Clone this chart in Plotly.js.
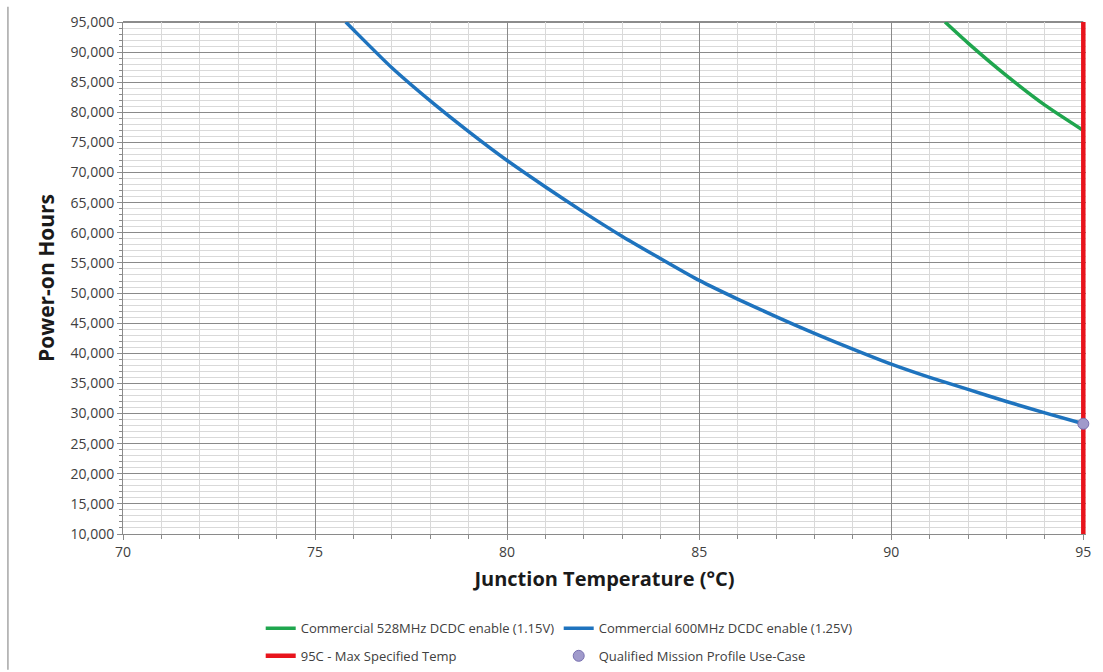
<!DOCTYPE html>
<html>
<head>
<meta charset="utf-8">
<script src="https://cdn.plot.ly/plotly-3.0.1.min.js"></script>
<style>
html,body{margin:0;padding:0;background:#fff;}
#chart{width:1103px;height:672px;}
</style>
</head>
<body>
<div id="chart"></div>
<script>
// Data
const tempBlue = [75.8, 76, 77, 78, 79, 80, 81, 82, 83, 84, 85, 86, 87, 88, 89, 90, 91, 92, 93, 94, 95];
const hoursBlue = [95000, 93700, 87400, 81900, 76800, 72000, 67600, 63400, 59400, 55700, 52100, 49000, 46100, 43300, 40700, 38200, 36000, 34000, 32000, 30100, 28300];
const tempGreen = [91.4, 92, 93, 94, 95];
const hoursGreen = [95000, 91500, 86100, 81200, 77000];
const maxTempX = [95, 95];
const maxTempY = [10000, 95000];
const useCaseX = [95];
const useCaseY = [28300];
const seriesNames = [
  'Commercial 528MHz DCDC enable (1.15V)',
  'Commercial 600MHz DCDC enable (1.25V)',
  '95C - Max Specified Temp',
  'Qualified Mission Profile Use-Case'
];
const yTickVals = [10000,15000,20000,25000,30000,35000,40000,45000,50000,55000,60000,65000,70000,75000,80000,85000,90000,95000];
const yTickText = yTickVals.map(v => v.toLocaleString('en-US'));
const xTickVals = [70, 75, 80, 85, 90, 95];

const fontFam = 'Open Sans, Liberation Sans, sans-serif';

const traces = [
  {x: tempGreen, y: hoursGreen, name: seriesNames[0], mode: 'lines',
   line: {color: '#1FA64E', width: 3.5, shape: 'spline', smoothing: 0.6}, legend: 'legend'},
  {x: tempBlue, y: hoursBlue, name: seriesNames[1], mode: 'lines',
   line: {color: '#1E73BE', width: 3.5, shape: 'spline', smoothing: 0.6}, legend: 'legend'},
  {x: maxTempX, y: maxTempY, name: seriesNames[2], mode: 'lines',
   line: {color: '#E8141C', width: 4.5}, legend: 'legend2'},
  {x: useCaseX, y: useCaseY, name: seriesNames[3], mode: 'markers',
   marker: {color: '#A09ACB', size: 11, line: {color: '#7870B0', width: 1}},
   legend: 'legend2', cliponaxis: false}
];

const legendCommon = {
  orientation: 'h', xanchor: 'left', yanchor: 'middle',
  font: {family: fontFam, size: 13, color: '#404040'},
  entrywidth: 253, entrywidthmode: 'pixels', itemwidth: 30,
  bgcolor: 'rgba(0,0,0,0)', traceorder: 'normal'
};

const layout = {
  width: 1103, height: 672,
  margin: {l: 123, r: 17, t: 22, b: 138, autoexpand: false},
  paper_bgcolor: '#ffffff', plot_bgcolor: '#ffffff',
  font: {family: fontFam, color: '#404040', size: 13},
  showlegend: true,
  xaxis: {
    range: [70, 95.07], tickmode: 'array', tickvals: xTickVals,
    showgrid: true, gridcolor: '#8a8a8a', gridwidth: 1,
    zeroline: false, showline: true, linecolor: '#8a8a8a', linewidth: 1,
    ticks: 'outside', ticklen: 5, tickcolor: '#8a8a8a',
    tickfont: {family: fontFam, size: 14, color: '#404040'},
    minor: {dtick: 1, showgrid: true, gridcolor: '#d9d9d9', gridwidth: 1, ticks: 'outside', ticklen: 4, tickcolor: '#8a8a8a'},
    title: {text: 'Junction Temperature (°C)', font: {family: fontFam, size: 20, color: '#1a1a1a', weight: 'bold'}, standoff: 12},
    automargin: false
  },
  yaxis: {
    range: [10000, 95000], tickmode: 'array', tickvals: yTickVals, ticktext: yTickText,
    showgrid: true, gridcolor: '#8a8a8a', gridwidth: 1,
    zeroline: false, showline: true, linecolor: '#8a8a8a', linewidth: 1,
    ticks: 'outside', ticklen: 5, tickcolor: '#8a8a8a',
    tickfont: {family: fontFam, size: 14, color: '#404040'},
    minor: {dtick: 1000, showgrid: true, gridcolor: '#d9d9d9', gridwidth: 1, ticks: 'outside', ticklen: 3, tickcolor: '#8a8a8a'},
    title: {text: 'Power-on Hours', font: {family: fontFam, size: 21, color: '#1a1a1a', weight: 'bold'}, standoff: 10},
    automargin: false
  },
  legend: Object.assign({}, legendCommon, {x: 0.143, y: -0.184}),
  legend2: Object.assign({}, legendCommon, {x: 0.143, y: -0.238}),
  shapes: [
    {type: 'line', xref: 'paper', yref: 'paper', x0: -0.1195, x1: -0.1195, y0: -0.265, y1: 1.03,
     line: {color: '#a6a6a6', width: 1.5}},
    {type: 'line', xref: 'x', yref: 'paper', x0: 70, x1: 95, y0: 1, y1: 1,
     line: {color: '#666666', width: 1.5}, layer: 'below'}
  ]
};

Plotly.newPlot('chart', traces, layout, {displayModeBar: false, staticPlot: true});
</script>
</body>
</html>
